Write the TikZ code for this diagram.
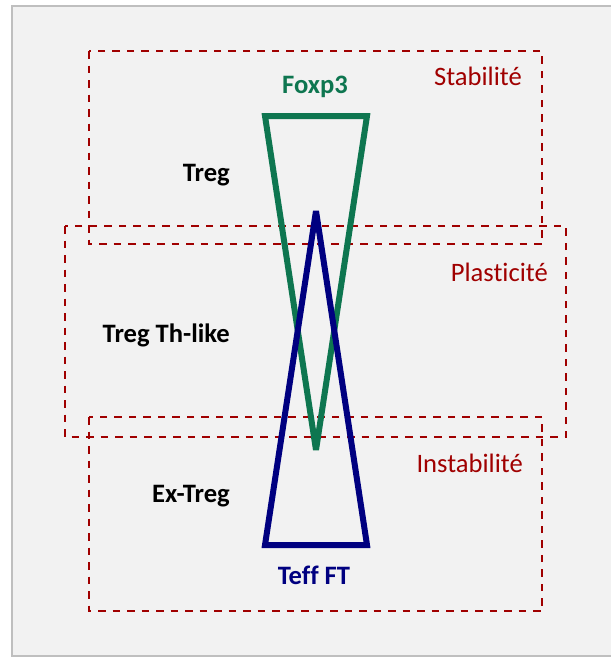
\documentclass[tikz,border=0pt]{standalone}
\usepackage{fontspec}
\setmainfont{Carlito}[Ligatures={NoCommon}]
\definecolor{bgfill}{RGB}{242,242,242}
\definecolor{frameline}{RGB}{191,191,191}
\definecolor{zonered}{RGB}{160,0,0}
\definecolor{foxgreen}{RGB}{14,118,80}
\definecolor{teffblue}{RGB}{0,0,128}
\begin{document}
\begin{tikzpicture}[x=1pt,y=-1pt,
  zone/.style={draw=zonered,line width=2pt,dash pattern=on 7.5pt off 7pt},
  zonelabel/.style={text=zonered,font=\fontsize{26.6}{30}\selectfont,inner sep=0pt,anchor=base east},
  celllabel/.style={font=\bfseries\fontsize{26.6}{30}\selectfont,inner sep=0pt,anchor=base east},
  tri/.style={line width=6pt,line join=miter,miter limit=2}]
\useasboundingbox (0,0) rectangle (611,657);
\fill[white] (0,0) rectangle (611,657);
\draw[fill=bgfill,draw=frameline,line width=1.5pt] (12,6) rectangle (620,656);
% zones
\coordinate (s1) at (89,51);  \coordinate (s2) at (542,244);
\coordinate (p1) at (65,226); \coordinate (p2) at (566,437);
\coordinate (i1) at (89,417); \coordinate (i2) at (542,611);
\draw[zone] (s1) rectangle (s2);
\draw[zone] (p1) rectangle (p2);
\draw[zone] (i1) rectangle (i2);
\node[zonelabel] (stab) at (522,85) {Stabilité};
\node[zonelabel] (plas) at (548,281) {Plasticité};
\node[zonelabel] (inst) at (523,472) {Instabilité};
% triangles
\coordinate (g1) at (265,116); \coordinate (g2) at (367,116); \coordinate (g3) at (316,450);
\coordinate (b1) at (265,545); \coordinate (b2) at (367,545); \coordinate (b3) at (316,211);
\draw[tri,draw=foxgreen] (g1) -- (g2) -- (g3) -- cycle;
\draw[tri,draw=teffblue] (b1) -- (b2) -- (b3) -- cycle;
\node[font=\bfseries\fontsize{26.6}{30}\selectfont,text=foxgreen,inner sep=0pt,anchor=base] (fox) at (315,93) {Foxp3};
\node[font=\bfseries\fontsize{26.6}{30}\selectfont,text=teffblue,inner sep=0pt,anchor=base] (teff) at (314,584) {Teff FT};
\node[celllabel] (treg) at (230,181) {Treg};
\node[celllabel] (th) at (230,342) {Treg Th-like};
\node[celllabel] (ex) at (230,502) {Ex-Treg};
\end{tikzpicture}
\end{document}
